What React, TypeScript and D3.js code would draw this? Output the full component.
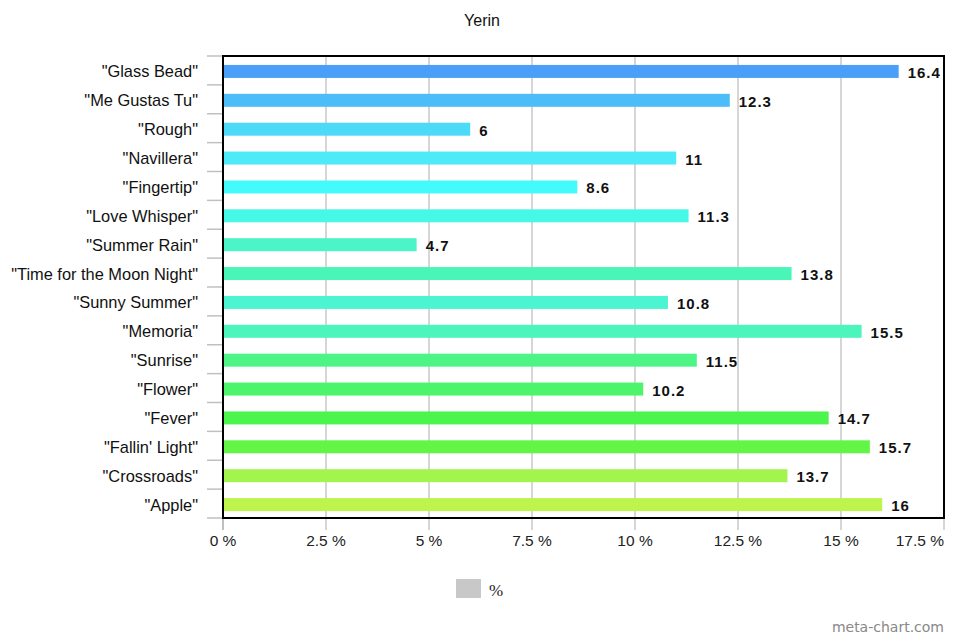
import React from "react";
import * as d3 from "d3";

const categories = [
  '"Glass Bead"',
  '"Me Gustas Tu"',
  '"Rough"',
  '"Navillera"',
  '"Fingertip"',
  '"Love Whisper"',
  '"Summer Rain"',
  '"Time for the Moon Night"',
  '"Sunny Summer"',
  '"Memoria"',
  '"Sunrise"',
  '"Flower"',
  '"Fever"',
  '"Fallin\' Light"',
  '"Crossroads"',
  '"Apple"',
];
const values = [16.4, 12.3, 6, 11, 8.6, 11.3, 4.7, 13.8, 10.8, 15.5, 11.5, 10.2, 14.7, 15.7, 13.7, 16];
const barColors = [
  "#4a9ff8", "#4cbdf8", "#4ddaf8", "#4deaf8", "#44fafa", "#46f8e6", "#4af5c8", "#4af5b8",
  "#4cf5d2", "#4cf5bc", "#4cf586", "#4cf56c", "#4cf54e", "#62f545", "#a2f54d", "#bef54d",
];
const xTicks = [0, 2.5, 5, 7.5, 10, 12.5, 15, 17.5];
const title = "Yerin";
const legendLabel = "%";

export default function App() {
  const W = 960, H = 640;
  const left = 223, right = 944, top = 56, bottom = 518;
  const x = d3.scaleLinear().domain([0, 17.5]).range([left, right]);
  const y = d3.scaleBand<string>().domain(categories).range([top, bottom]).padding(0);
  const bw = y.bandwidth();
  const barH = bw * 0.45;
  const font = "'Liberation Sans', Arial, sans-serif";
  const boundaries = d3.range(categories.length + 1).map((i) => top + i * bw);

  return (
    <svg width={W} height={H} style={{ position: "absolute", left: 0, top: 0, background: "#fff" }}>
      <rect x={0} y={0} width={W} height={H} fill="#fff" />
      <text x={482} y={26} textAnchor="middle" fontFamily={font} fontSize={16} fill="#111">{title}</text>
      {/* grid lines */}
      {xTicks.slice(1).map((t) => (
        <line key={t} x1={x(t)} x2={x(t)} y1={top} y2={bottom + 12} stroke="#c8c8c8" strokeWidth={1.5} />
      ))}
      {/* left axis ticks */}
      {boundaries.map((b, i) => (
        <line key={i} x1={207} x2={left} y1={b} y2={b} stroke="#c0c0c0" strokeWidth={1.5} />
      ))}
      <line x1={left} x2={left} y1={top} y2={bottom + 12} stroke="#aaa" strokeWidth={1.5} />
      {/* bars */}
      {categories.map((c, i) => {
        const cy = (y(c) as number) + bw / 2 + 1;
        return (
          <g key={c}>
            <rect x={x(0)} y={cy - barH / 2} width={x(values[i]) - x(0)} height={barH} fill={barColors[i]} />
            <text x={x(values[i]) + 9} y={cy + 6.5} fontFamily={font} fontSize={15} fontWeight="bold" letterSpacing={1} fill="#111">
              {String(values[i])}
            </text>
            <text x={198} y={cy + 6} textAnchor="end" fontFamily={font} fontSize={16.4} fill="#111">{c}</text>
          </g>
        );
      })}
      {/* border */}
      <rect x={left} y={top} width={right - left} height={bottom - top} fill="none" stroke="#000" strokeWidth={2} />
      {/* x tick labels */}
      {xTicks.map((t, i) => (
        <text
          key={t}
          x={x(t)}
          y={546}
          textAnchor={i === xTicks.length - 1 ? "end" : "middle"}
          fontFamily={font}
          fontSize={15.5}
          fill="#222"
        >
          {`${t} %`}
        </text>
      ))}
      {/* legend */}
      <rect x={456} y={579} width={25} height={19} fill="#c8c8c8" />
      <text x={489} y={596} fontFamily="'Liberation Serif', serif" fontSize={17} fill="#222">{legendLabel}</text>
      <text x={944} y={632} textAnchor="end" fontFamily="'DejaVu Sans', sans-serif" fontSize={14} fill="#888">meta-chart.com</text>
    </svg>
  );
}
